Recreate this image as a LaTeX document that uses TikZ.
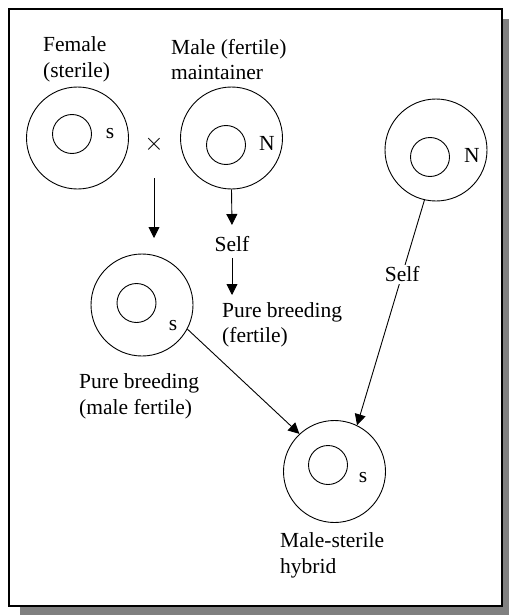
\documentclass[tikz,border=0pt]{standalone}
\usepackage{fontspec}
\setmainfont{Liberation Serif}
\usetikzlibrary{arrows.meta, positioning}

\begin{document}
\begin{tikzpicture}[x=1pt, y=-1pt,
            celula/.style={circle, draw, line width=0.9pt, minimum size=102pt, inner sep=0pt},
            nucleo/.style={circle, draw, line width=0.9pt, minimum size=39pt, inner sep=0pt},
            rotulo/.style={anchor=west, align=left, inner sep=0pt, font=\fontsize{21.5}{25.5}\selectfont},
            letra/.style={inner sep=0pt, font=\fontsize{21.5}{25.5}\selectfont},
            flecha/.style={-{Triangle[length=11pt, width=11pt]}, line width=0.9pt}]

            \useasboundingbox (0,0) rectangle (509,615);
            \fill[black!50] (20,19) rectangle (509,615);
            \draw[line width=2pt, fill=white] (9,9) rectangle (502,606);

            % progenitores
            \node[celula] (fem) at (77.5,138) {};
            \node[nucleo] (femN) at (72,134) {};
            \node[letra] (femL) at (110,134) {s};
            \node[rotulo] (femT) at (43,59.5) {Female\\(sterile)};

            \node[letra, font=\fontsize{26}{28}\selectfont] (cruce) at (154,144) {$\times$};

            \node[celula] (mant) at (231.5,138) {};
            \node[nucleo] (mantN) at (226,145) {};
            \node[letra] (mantL) at (267,143) {N};
            \node[rotulo] (mantT) at (171,59.5) {Male (fertile)\\maintainer};

            \node[celula] (rest) at (436,150) {};
            \node[nucleo] (restN) at (430,157) {};
            \node[letra] (restL) at (472,155) {N};

            % descendencia
            \node[celula] (puro) at (142,305) {};
            \node[nucleo] (puroN) at (136.5,303) {};
            \node[letra] (puroL) at (173,326) {s};
            \node[rotulo] (puroT) at (79,396.5) {Pure breeding\\(male fertile)};

            \node[letra] (self) at (232,244) {Self};
            \node[rotulo] (fertT) at (222,325) {Pure breeding\\(fertile)};

            \node[celula] (hib) at (334.5,471.5) {};
            \node[nucleo] (hibN) at (328,465) {};
            \node[letra] (hibL) at (363,478) {s};
            \node[rotulo] (hibT) at (280,555.5) {Male-sterile\\hybrid};

            \coordinate (cruceA) at (154,178);
            \coordinate (cruceB) at (154,238);
            \coordinate (selfA) at (232,225);
            \coordinate (fertB) at (232,295);

            \draw[flecha] (cruceA) -- (cruceB);
            \draw[flecha] (mant.south) -- (selfA);
            \draw[flecha] ([yshift=-6pt]self.south) -- (fertB);
            \draw[flecha] (puro.-28) -- (hib.133);
            \draw[flecha] (rest.-103) -- node[pos=0.33, letra, fill=white, inner sep=2pt] {Self} (hib.64);
        \end{tikzpicture}
\end{document}
